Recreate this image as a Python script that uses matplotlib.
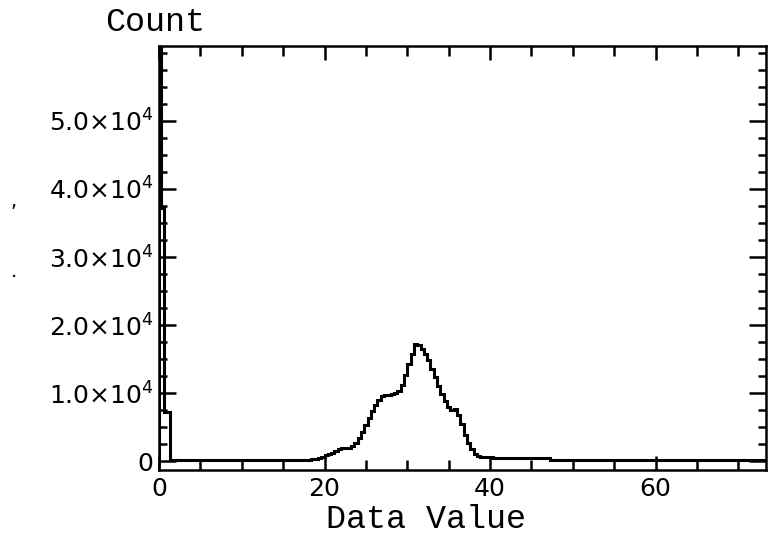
import matplotlib
matplotlib.use("Agg")
import matplotlib.pyplot as plt
from matplotlib.ticker import MultipleLocator, FuncFormatter

# histogram of data values: bin edges and counts per bin
edges = [0, 0.2, 0.6, 1.3,
         18.0, 18.4, 18.8, 19.2, 19.6, 20.0, 20.4, 20.8, 21.2, 21.6,
         22.0, 22.4, 22.8, 23.2, 23.6, 24.0, 24.4, 24.8, 25.2, 25.6,
         26.0, 26.4, 26.8, 27.2, 27.6, 28.0, 28.4, 28.8, 29.2, 29.6,
         30.0, 30.4, 30.8, 31.2, 31.6, 32.0, 32.4, 32.8, 33.2, 33.6,
         34.0, 34.4, 34.8, 35.2, 35.6, 36.0, 36.4, 36.8, 37.2, 37.6,
         38.0, 38.4, 38.8, 39.2, 39.6, 40.0, 40.4, 40.8, 41.2,
         47.3, 73.3]
counts = [70000, 37200, 7200, 150,
          200, 300, 350, 450, 600, 850, 1050, 1250, 1500, 1800,
          1900, 1900, 1900, 2200, 2700, 3400, 4300, 5300, 6400, 7400,
          8300, 9000, 9600, 9700, 9700, 9800, 10000, 10300, 11200, 12600,
          14200, 15800, 17200, 17000, 16500, 15800, 14900, 13600, 12300, 11000,
          9900, 8900, 8000, 7500, 7600, 6800, 5400, 3900, 2600, 1700,
          1100, 800, 650, 600, 600, 550, 500, 450, 400,
          100]

x_major = [0, 20, 40, 60]
y_major = [0, 10000, 20000, 30000, 40000, 50000]

fig = plt.figure(figsize=(7.68, 5.37), dpi=100)
ax = fig.add_axes([0.207, 0.125, 0.790, 0.789])

ax.stairs(counts, edges, color="black", linewidth=2.2)

ax.set_xlim(0, 73.3)
ax.set_ylim(-1300, 61000)

ax.xaxis.set_major_locator(plt.FixedLocator(x_major))
ax.xaxis.set_minor_locator(MultipleLocator(5))
ax.yaxis.set_major_locator(plt.FixedLocator(y_major))
ax.yaxis.set_minor_locator(MultipleLocator(2500))


def sci(v, pos):
    if v == 0:
        return "0"
    return "%.1f×10$^{4}$" % (v / 1e4)


ax.yaxis.set_major_formatter(FuncFormatter(sci))

for s in ax.spines.values():
    s.set_linewidth(1.8)

ax.tick_params(axis="both", which="both", direction="in", top=True, right=True,
               width=1.8, labelsize=18, colors="black")
ax.tick_params(axis="x", which="major", length=10, pad=5)
ax.tick_params(axis="x", which="minor", length=7)
ax.tick_params(axis="y", which="major", length=12, pad=4)
ax.tick_params(axis="y", which="minor", length=6)
for lab in ax.get_yticklabels():
    lab.set_verticalalignment("center_baseline")

fig.text(0.202, 0.958, "Count", family="Liberation Mono", fontsize=24,
         ha="center", va="center")
fig.text(0.555, 0.032, "Data Value", family="Liberation Mono", fontsize=24,
         ha="center", va="center")

# specks along the left margin
fig.text(0.018, 0.625, ",", fontsize=14, ha="center", va="center")
fig.text(0.018, 0.495, ".", fontsize=14, ha="center", va="center")

fig.savefig("out.png", dpi=100)
